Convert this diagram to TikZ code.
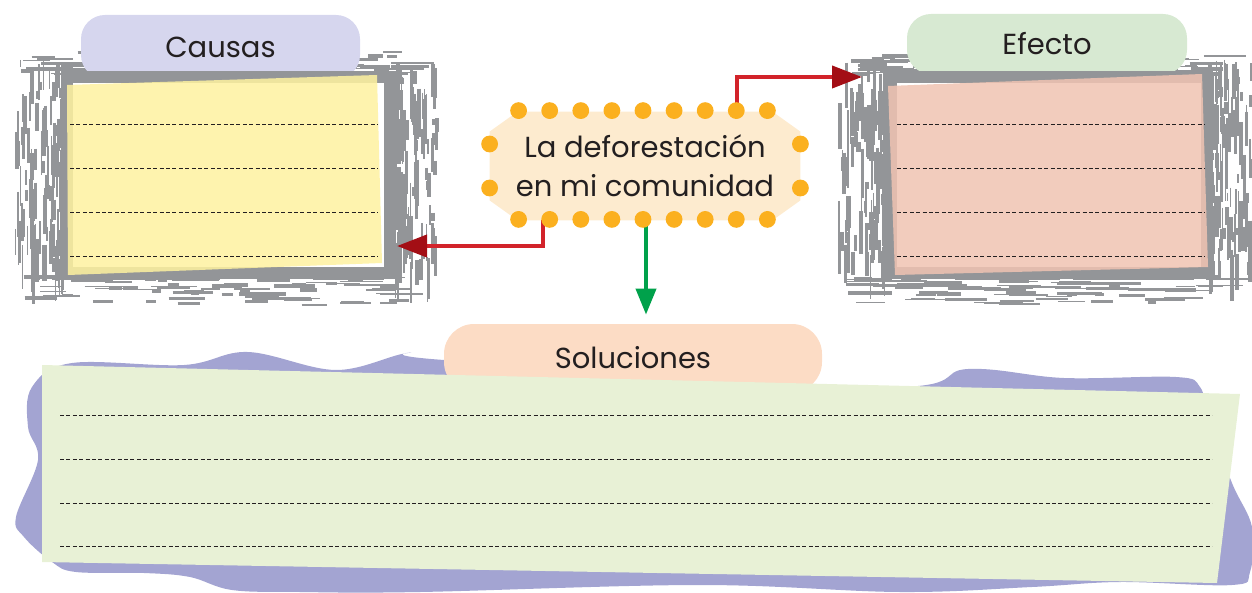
\documentclass[tikz,border=0pt]{standalone}
\usepackage{fontspec}
\setmainfont{Poppins}
\usepackage{xcolor}
\definecolor{tinta}{RGB}{35,31,32}
\definecolor{gris}{RGB}{147,149,152}
\definecolor{lila}{RGB}{214,214,238}
\definecolor{verdeclaro}{RGB}{215,233,210}
\definecolor{durazno}{RGB}{252,220,197}
\definecolor{crema}{RGB}{253,235,207}
\definecolor{naranja}{RGB}{251,176,31}
\definecolor{rojo}{RGB}{210,35,42}
\definecolor{rojooscuro}{RGB}{163,14,21}
\definecolor{verde}{RGB}{0,161,75}
\definecolor{morado}{RGB}{163,164,210}
\definecolor{papelverde}{RGB}{232,241,214}
\definecolor{amarillo}{RGB}{254,242,160}
\definecolor{rosa}{RGB}{240,196,178}
\usepackage{tikz}
\usetikzlibrary{arrows.meta, positioning, calc, backgrounds}
\tikzstyle{pestana} = [rectangle, rounded corners=12pt, inner sep=0pt, font=\fontsize{14.5}{18}\selectfont, text=tinta]
\tikzstyle{marco} = [rectangle, draw=gris, line width=6pt, fill=white, inner sep=0pt]
\tikzstyle{papel} = [fill opacity=0.85]
\tikzstyle{renglon} = [line width=0.5pt, dash pattern=on 2pt off 1.2pt, tinta]
\tikzstyle{manchagris} = [gris, line cap=butt]
\tikzstyle{punto} = [fill=naranja]
\tikzstyle{flecharoja} = [rojo, line width=2pt, -{Triangle[length=15pt, width=11pt, color=rojooscuro]}]
\tikzstyle{flechaverde} = [verde, line width=2pt, -{Triangle[length=13pt, width=10pt]}]
% brush strokes around a frame: x left, y top, x right, y bottom
\newcommand{\manchas}[4]{%
  \foreach \k in {1,...,150}{%
    \pgfmathsetmacro{\gx}{#1+48-48*rnd^2}%
    \pgfmathsetmacro{\gy}{#2+8+(#4-#2-50)*rnd}%
    \pgfmathsetmacro{\gl}{6+40*rnd}%
    \pgfmathsetmacro{\gw}{0.4+1.8*rnd}%
    \draw[manchagris, line width=\gw pt] (\gx,\gy) -- ++(0,\gl);
    \pgfmathsetmacro{\gx}{#3-42+42*rnd^2}%
    \pgfmathsetmacro{\gy}{#2+8+(#4-#2-50)*rnd}%
    \pgfmathsetmacro{\gl}{6+40*rnd}%
    \pgfmathsetmacro{\gw}{0.4+1.8*rnd}%
    \draw[manchagris, line width=\gw pt] (\gx,\gy) -- ++(0,\gl);
  }
  \foreach \k in {1,...,110}{%
    \pgfmathsetmacro{\gx}{#1+5+(#3-#1-50)*rnd}%
    \pgfmathsetmacro{\gy}{#2+24-24*rnd^2}%
    \pgfmathsetmacro{\gl}{8+40*rnd}%
    \pgfmathsetmacro{\gw}{0.4+1.5*rnd}%
    \draw[manchagris, line width=\gw pt] (\gx,\gy) -- ++(\gl,0);
    \pgfmathsetmacro{\gx}{#1+5+(#3-#1-50)*rnd}%
    \pgfmathsetmacro{\gy}{#4-28+28*rnd^2}%
    \pgfmathsetmacro{\gl}{8+40*rnd}%
    \pgfmathsetmacro{\gw}{0.4+1.5*rnd}%
    \draw[manchagris, line width=\gw pt] (\gx,\gy) -- ++(\gl,0);
  }%
}

\begin{document}
\begin{tikzpicture}[x=0.5pt, y=-0.5pt]
    \useasboundingbox (0,0) rectangle (1252,593);
    \pgfmathsetseed{12}

    % soluciones
    \fill[morado] plot[smooth cycle, tension=0.6] coordinates {(32,387) (72,363) (184,365) (248,352) (336,370) (408,353) (444,360) (880,387) (968,369) (1064,378) (1176,377) (1200,387) (1208,417) (1232,483) (1252,527) (1250,572) (1232,585) (1120,582) (1032,587) (900,592) (700,585) (420,592) (300,592) (232,590) (190,577) (144,573) (76,572) (52,562) (24,537) (16,517) (38,460) (28,427)};
    \node[pestana, rounded corners=15pt, fill=durazno, minimum width=189pt, minimum height=34pt] (soluciontab) at (633,358) {Soluciones};
    \fill[papelverde] (42,365) -- (1240,394) -- (1217,583) -- (42,562) -- cycle;
    \foreach \y in {415,459,503,546}
        \draw[renglon] (60,\y) -- (1212,\y);

    % causas
    \manchas{15}{50}{437}{305}
    \node[pestana, fill=lila, minimum width=139.5pt, minimum height=32pt] (causastab) at (220.5,47) {Causas};
    \node[marco, minimum width=161.5pt, minimum height=98pt] (causasmarco) at (228.5,175) {};
    \fill[amarillo, papel] (67,85) -- (377,75) -- (382,263) -- (68,275) -- cycle;
    \foreach \y in {125,169,213,257}
        \draw[renglon] (70,\y) -- (378,\y);

    % efecto
    \manchas{838}{50}{1252}{305}
    \node[pestana, fill=verdeclaro, minimum width=140pt, minimum height=30pt] (efectotab) at (1047,44) {Efecto};
    \node[marco, minimum width=158pt, minimum height=98pt] (efectomarco) at (1049,175) {};
    \fill[rosa, papel] (888,86) -- (1202,74) -- (1208,267) -- (895,275) -- cycle;
    \foreach \y in {125,169,213,257}
        \draw[renglon] (897,\y) -- (1205,\y);

    % tema
    \node[text=tinta, align=center, minimum width=155pt, minimum height=54pt, inner sep=0pt, font=\fontsize{14.5}{19.5}\selectfont] (tema) at (645,166) {La deforestación\\en mi comunidad};
    \begin{scope}[on background layer]
        \fill[crema] ([xshift=14pt]tema.north west) -- ([xshift=-14pt]tema.north east) -- ([yshift=-10pt]tema.north east) -- ([yshift=10pt]tema.south east) -- ([xshift=-14pt]tema.south east) -- ([xshift=14pt]tema.south west) -- ([yshift=10pt]tema.south west) -- ([yshift=-10pt]tema.north west) -- cycle;
    \end{scope}

    \coordinate (causasin) at (397,246);
    \coordinate (efectoin) at (862,77);
    \draw[flecharoja] ($(tema.south)+(-102,0)$) |- (causasin);
    \draw[flecharoja] ($(tema.north)+(92,0)$) |- (efectoin);
    \draw[flechaverde] ($(tema.south)+(1,0)$) -- ($(tema.south |- soluciontab.north)+(1,-9)$);

    \foreach \i in {0,...,8} {
        \fill[punto] ($(tema.north west)+(29+\i*31.1,-1)$) circle (4.2pt);
        \fill[punto] ($(tema.south west)+(29+\i*31.1,-1)$) circle (4.2pt);
    }
    \foreach \s in {-22,22} {
        \fill[punto] ($(tema.west)+(0,\s)$) circle (4.2pt);
        \fill[punto] ($(tema.east)+(0,\s)$) circle (4.2pt);
    }
\end{tikzpicture}
\end{document}
